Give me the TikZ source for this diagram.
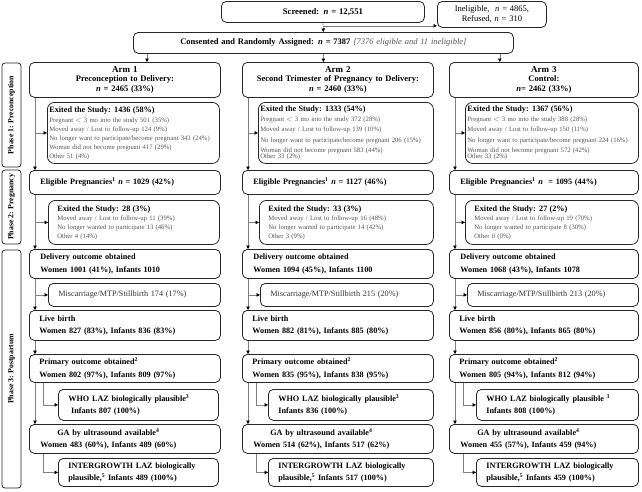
\documentclass[tikz,border=0pt]{standalone}
\usepackage{fontspec}
\setmainfont{Liberation Serif}
\usetikzlibrary{arrows.meta,calc}
\definecolor{bord}{HTML}{262626}
\definecolor{conn}{HTML}{808080}
\definecolor{detail}{HTML}{555555}
\definecolor{misc}{HTML}{333333}
\tikzset{
  box/.style={draw=bord, line width=0.8pt, rounded corners=5pt, anchor=north west,
    inner ysep=0pt, align=left, font=\fontsize{8.2}{12}\selectfont\bfseries},
  cbox/.style={box, align=center, font=\fontsize{8.5}{9.5}\selectfont\bfseries},
  exbox/.style={box, rounded corners=7pt, text=detail, font=\fontsize{6.7}{9}\selectfont},
  mbox/.style={box, text=misc, font=\fontsize{8.2}{9}\selectfont},
  phase/.style={draw=bord, line width=0.8pt, rounded corners=3pt, rotate=90, inner sep=0pt,
    font=\fontsize{7.8}{8}\selectfont\bfseries},
  arr/.style={draw=conn, line width=0.6pt, -{Triangle[length=3.5pt,width=3.5pt,color=black]}},
}
% name, style, pad, x1, y1, x2, y2, text
\newcommand{\bnode}[8]{%
  \pgfmathsetmacro{\bw}{#6-#4}%
  \pgfmathsetmacro{\bh}{#7-#5}%
  \pgfmathsetmacro{\tw}{#6-#4-2*#3}%
  \node[#2, inner xsep=#3pt, minimum width=\bw pt, minimum height=\bh pt, text width=\tw pt] (#1) at (#4,#5) {#8};}
\newcommand{\ttl}[1]{{\color{black}\bfseries\fontsize{8.2}{9}\selectfont #1}}
\newcommand{\nn}{\textit{n}}
\begin{document}
\begin{tikzpicture}[x=1pt,y=-1pt]
\useasboundingbox (0,0) rectangle (642,491);

% top
\bnode{scr}{cbox}{4}{221}{1}{424}{22}{\fontsize{8.7}{9.5}\selectfont Screened: \nn{} = 12,551}
\bnode{inel}{cbox}{4}{437}{1}{546}{27}{\mdseries Ineligible,\ \ \nn{} = 4865,\\\mdseries Refused, \nn{} = 310}
\bnode{cons}{cbox}{4}{133}{32}{513}{53}{Consented and Randomly Assigned: \nn{} = 7387 {\mdseries\itshape\color{detail}[7376 eligible and 11 ineligible]}}
\draw[arr] (scr.south) -- (cons.north);
\draw[arr] ([yshift=-3pt]scr.south) -- ([yshift=-3pt]scr.south -| inel.west);

% phases
\node[phase, minimum width=104pt, minimum height=19pt] (ph1) at (11.5,115) {Phase 1: Preconception};
\node[phase, minimum width=74pt, minimum height=19pt] (ph2) at (11.5,207) {Phase 2: Pregnancy};
\node[phase, minimum width=238pt, minimum height=19pt] (ph3) at (11.5,369) {Phase 3: Postpartum};

% ================= ARM 1
\bnode{a1}{cbox}{4}{29}{62}{220}{97}{{\fontsize{9}{9.5}\selectfont Arm 1}\\Preconception to Delivery:\\\nn{} = 2465 (33\%)}
\bnode{a1x}{exbox}{2}{47}{102}{219}{163}{\ttl{Exited the Study: 1436 (58\%)}\\[1pt]
Pregnant $<$ 3 mo into the study 501 (35\%)\\
Moved away / Lost to follow-up 124 (9\%)\\
No longer want to participate/become pregnant 343 (24\%)\\
Woman did not become pregnant 417 (29\%)\\
Other 51 (4\%)}
\bnode{a1e}{box}{11}{29}{170}{220}{194}{Eligible Pregnancies\textsuperscript{1} \nn{} = 1029 (42\%)}
\bnode{a1y}{exbox}{9}{48}{200}{219}{244}{\ttl{Exited the Study: 28 (3\%)}\\
Moved away / Lost to follow-up 11 (39\%)\\
No longer wanted to participate 13 (46\%)\\
Other 4 (14\%)}
\bnode{a1d}{box}{11}{29}{249}{220}{278}{Delivery outcome obtained\\[1pt]Women 1001 (41\%), Infants 1010}
\bnode{a1m}{mbox}{10}{48}{283}{220}{306}{Miscarriage/MTP/Stillbirth 174 (17\%)}
\bnode{a1l}{box}{10}{29}{310}{220}{340}{Live birth\\Women 827 (83\%), Infants 836 (83\%)}
\bnode{a1p}{box}{10}{29}{354}{220}{382}{Primary outcome obtained\textsuperscript{2}\\[1pt]Women 802 (97\%), Infants 809 (97\%)}
\bnode{a1w}{box}{10}{58}{389}{218}{420}{WHO LAZ biologically plausible\textsuperscript{3}\\\ Infants 807 (100\%)}
\bnode{a1g}{box}{11}{29}{424}{220}{453}{\begin{tabular}{@{}c@{}}GA by ultrasound available\textsuperscript{4}\\Women 483 (60\%), Infants 489 (60\%)\end{tabular}}
\bnode{a1i}{box}{10}{58}{458}{218}{486}{\fontsize{8.2}{11}\selectfont INTERGROWTH LAZ biologically\\plausible,\textsuperscript{5} Infants 489 (100\%)}

% ================= ARM 2
\bnode{a2}{cbox}{4}{242}{62}{433}{97}{{\fontsize{9}{9.5}\selectfont Arm 2}\\Second Trimester of Pregnancy to Delivery:\\\nn{} = 2460 (33\%)}
\bnode{a2x}{exbox}{2}{258}{102}{433}{163}{\ttl{Exited the Study: 1333 (54\%)}\\[1pt]
Pregnant $<$ 3 mo into the study 372 (28\%)\\[1.5pt]
Moved away / Lost to follow-up 139 (10\%)\\[1.5pt]
No longer want to participate/become pregnant 206 (15\%)\\[1.5pt]
Woman did not become pregnant 583 (44\%)\\[-3pt]
Other 33 (2\%)}
\bnode{a2e}{box}{11}{242}{170}{433}{194}{Eligible Pregnancies\textsuperscript{1} \nn{} = 1127 (46\%)}
\bnode{a2y}{exbox}{9}{259}{200}{433}{244}{\ttl{Exited the Study: 33 (3\%)}\\
Moved away / Lost to follow-up 16 (48\%)\\
No longer wanted to participate 14 (42\%)\\
Other 3 (9\%)}
\bnode{a2d}{box}{11}{242}{249}{433}{278}{Delivery outcome obtained\\[1pt]Women 1094 (45\%), Infants 1100}
\bnode{a2m}{mbox}{10}{260}{283}{433}{306}{Miscarriage/MTP/Stillbirth 215 (20\%)}
\bnode{a2l}{box}{10}{242}{310}{433}{340}{Live birth\\Women 882 (81\%), Infants 885 (80\%)}
\bnode{a2p}{box}{10}{242}{354}{433}{382}{Primary outcome obtained\textsuperscript{2}\\[1pt]Women 835 (95\%), Infants 838 (95\%)}
\bnode{a2w}{box}{10}{268}{389}{433}{420}{WHO LAZ biologically plausible\textsuperscript{3}\\Infants 836 (100\%)}
\bnode{a2g}{box}{11}{242}{424}{433}{453}{\begin{tabular}{@{}c@{}}GA by ultrasound available\textsuperscript{4}\\Women 514 (62\%), Infants 517 (62\%)\end{tabular}}
\bnode{a2i}{box}{10}{268}{458}{433}{486}{\fontsize{8.2}{11}\selectfont INTERGROWTH LAZ biologically\\plausible,\textsuperscript{5} Infants 517 (100\%)}

% ================= ARM 3
\bnode{a3}{cbox}{4}{449}{62}{638}{97}{{\fontsize{9}{9.5}\selectfont Arm 3}\\Control:\\\nn{}= 2462 (33\%)}
\bnode{a3x}{exbox}{2}{465}{102}{638}{163}{\ttl{Exited the Study: 1367 (56\%)}\\[1pt]
Pregnant $<$ 3 mo into the study 388 (28\%)\\[1.5pt]
Moved away / Lost to follow-up 150 (11\%)\\[1.5pt]
No longer want to participate/become pregnant 224 (16\%)\\[1.5pt]
Woman did not become pregnant 572 (42\%)\\[-3pt]
Other 33 (2\%)}
\bnode{a3e}{box}{11}{449}{170}{638}{194}{Eligible Pregnancies\textsuperscript{1} \nn{}\ \ = 1095 (44\%)}
\bnode{a3y}{exbox}{9}{465}{200}{638}{244}{\ttl{Exited the Study: 27 (2\%)}\\
Moved away / Lost to follow-up 19 (70\%)\\
No longer wanted to participate 8 (30\%)\\
Other 0 (0\%)}
\bnode{a3d}{box}{11}{449}{249}{638}{278}{Delivery outcome obtained\\[1pt]Women 1068 (43\%), Infants 1078}
\bnode{a3m}{mbox}{10}{467}{283}{638}{306}{Miscarriage/MTP/Stillbirth 213 (20\%)}
\bnode{a3l}{box}{10}{449}{310}{638}{340}{Live birth\\Women 856 (80\%), Infants 865 (80\%)}
\bnode{a3p}{box}{10}{449}{354}{638}{382}{Primary outcome obtained\textsuperscript{2}\\[1pt]Women 805 (94\%), Infants 812 (94\%)}
\bnode{a3w}{box}{10}{476}{389}{638}{420}{WHO LAZ biologically plausible \textsuperscript{3}\\Infants 808 (100\%)}
\bnode{a3g}{box}{11}{449}{424}{638}{453}{\begin{tabular}{@{}c@{}}GA by ultrasound available\textsuperscript{4}\\Women 455 (57\%), Infants 459 (94\%)\end{tabular}}
\bnode{a3i}{box}{10}{476}{458}{638}{486}{\fontsize{8.2}{11}\selectfont INTERGROWTH LAZ biologically\\plausible,\textsuperscript{5} Infants 459 (100\%)}

% consented to arms
\draw[arr] ([xshift=14pt]cons.south west) -- ([xshift=14pt]cons.south west |- a1.north);
\draw[arr] (cons.south) -- (cons.south |- a2.north);
\draw[arr] ([xshift=-14pt]cons.south east) -- ([xshift=-14pt]cons.south east |- a3.north);

% arm connectors
\foreach \a in {a1,a2,a3}{
  \draw[arr] ([xshift=6pt]\a.south west) -- ([xshift=6pt]\a e.north west);
  \draw[arr] ([xshift=6pt]\a.south west) |- (\a x.west);
  \draw[arr] ([xshift=6pt]\a e.south west) -- ([xshift=6pt]\a d.north west);
  \draw[arr] ([xshift=6pt]\a e.south west) |- (\a y.west);
  \draw[arr] ([xshift=6pt]\a d.south west) -- ([xshift=6pt]\a l.north west);
  \draw[arr] ([xshift=6pt]\a d.south west) |- (\a m.west);
  \draw[arr] ([xshift=6pt]\a l.south west) -- ([xshift=6pt]\a p.north west);
  \draw[arr] ([xshift=6pt]\a p.south west) -- ([xshift=6pt]\a g.north west);
  \draw[arr] ([xshift=14pt]\a p.south west) |- (\a w.west);
  \draw[arr] ([xshift=14pt]\a g.south west) |- (\a i.west);
}
\end{tikzpicture}
\end{document}
